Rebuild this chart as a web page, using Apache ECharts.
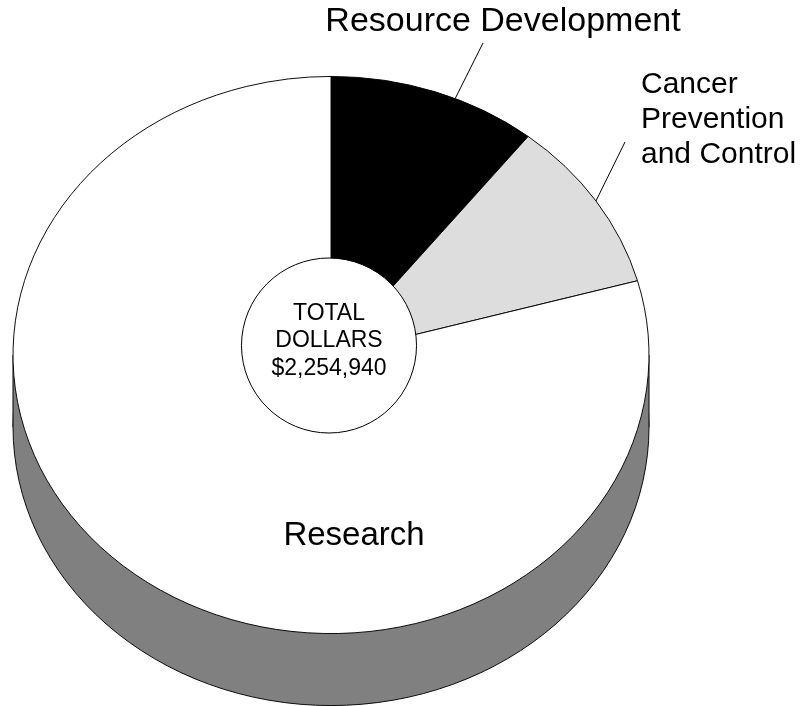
<!DOCTYPE html>
<html>
<head>
    <meta charset="utf-8">
    <title>Total dollars by program</title>
    <script src="https://cdn.jsdelivr.net/npm/echarts@6/dist/echarts.min.js"></script>
    <style>
        html, body { margin: 0; padding: 0; background: #fff; }
        #chart_total { width: 804px; height: 706px; }
    </style>
</head>
<body>
    <div id="chart_total"></div>
    <script>
        // data (slice sizes estimated from the angles)
        var categories = ['Resource Development', 'Cancer Prevention and Control', 'Research'];
        var dollars = [240000, 226900, 1788040];
        var sliceColors = ['#000000', '#dddddd', '#ffffff'];

        var total = dollars.reduce(function (a, b) { return a + b; }, 0);

        // geometry of the tilted pie
        var cx = 331, cy = 355, R = 318, squash = 0.876, depth = 72;
        var fontFamily = '"Liberation Sans", Arial, sans-serif';

        // where each label sits
        var labelSpec = [
            { x: 503, y: 22, align: 'center', size: 34, leaderAt: 0.6, leaderEnd: [483, 43] },
            { x: 641, y: 120, align: 'left', size: 30, width: 170, lineHeight: 35, leaderAt: 0.5, leaderEnd: [625, 142] },
            { x: 354, y: 536, align: 'center', size: 33 }
        ];

        var sliceData = [];
        var acc = 0;
        dollars.forEach(function (v) {
            sliceData.push([v, acc / total, (acc + v) / total]);
            acc += v;
        });

        function angleOf(f) {
            return -Math.PI / 2 + 2 * Math.PI * f;
        }

        function renderSide(params, api) {
            return {
                type: 'group',
                children: [
                    {
                        type: 'circle',
                        x: cx, y: cy + depth, scaleY: squash,
                        shape: { cx: 0, cy: 0, r: R },
                        style: { fill: '#808080', stroke: '#000', lineWidth: 1, strokeNoScale: true }
                    },
                    {
                        type: 'rect',
                        shape: { x: cx - R, y: cy, width: 2 * R, height: depth },
                        style: { fill: '#808080' }
                    },
                    {
                        type: 'line',
                        shape: { x1: cx - R, y1: cy, x2: cx - R, y2: cy + depth },
                        style: { stroke: '#000', lineWidth: 1 }
                    },
                    {
                        type: 'line',
                        shape: { x1: cx + R, y1: cy, x2: cx + R, y2: cy + depth },
                        style: { stroke: '#000', lineWidth: 1 }
                    }
                ]
            };
        }

        function renderSlice(params, api) {
            var i = params.dataIndex;
            var f0 = api.value(1), f1 = api.value(2);
            var spec = labelSpec[i];
            var children = [{
                type: 'sector',
                x: cx, y: cy, scaleY: squash,
                shape: { cx: 0, cy: 0, r0: 0, r: R, startAngle: angleOf(f0), endAngle: angleOf(f1), clockwise: true },
                style: { fill: sliceColors[i], stroke: '#000', lineWidth: 1, strokeNoScale: true },
                z2: 1
            }];
            if (spec.leaderEnd) {
                var a = angleOf(f0 + spec.leaderAt * (f1 - f0));
                children.push({
                    type: 'line',
                    shape: {
                        x1: cx + R * Math.cos(a), y1: cy + squash * R * Math.sin(a),
                        x2: spec.leaderEnd[0], y2: spec.leaderEnd[1]
                    },
                    style: { stroke: '#000', lineWidth: 1 },
                    z2: 5
                });
            }
            var txt = {
                type: 'text',
                x: spec.x, y: spec.y,
                style: {
                    text: categories[i],
                    fontSize: spec.size,
                    fontFamily: fontFamily,
                    fill: '#000',
                    align: spec.align,
                    verticalAlign: 'middle'
                },
                z2: 10
            };
            if (spec.width) {
                txt.style.width = spec.width;
                txt.style.overflow = 'break';
                txt.style.lineHeight = spec.lineHeight;
            }
            children.push(txt);
            return { type: 'group', children: children };
        }

        var echart_total = echarts.init(document.getElementById('chart_total'));

        var option = {
            backgroundColor: '#fff',
            animation: false,
            series: [
                {
                    type: 'custom',
                    coordinateSystem: 'none',
                    silent: true,
                    z: 1,
                    data: [[total]],
                    renderItem: renderSide
                },
                {
                    type: 'custom',
                    coordinateSystem: 'none',
                    silent: true,
                    z: 2,
                    data: sliceData,
                    renderItem: renderSlice
                }
            ],
            graphic: [
                {
                    type: 'circle',
                    z: 100,
                    shape: { cx: 329, cy: 345.5, r: 87.5 },
                    style: { fill: '#fff', stroke: '#000', lineWidth: 1 }
                },
                {
                    type: 'text',
                    z: 101,
                    x: 329, y: 341,
                    style: {
                        text: 'TOTAL\nDOLLARS\n$' + total.toLocaleString('en-US'),
                        fontSize: 23,
                        lineHeight: 27.5,
                        fontFamily: fontFamily,
                        fill: '#000',
                        align: 'center',
                        verticalAlign: 'middle'
                    }
                }
            ]
        };
        echart_total.setOption(option);
    </script>
</body>
</html>
